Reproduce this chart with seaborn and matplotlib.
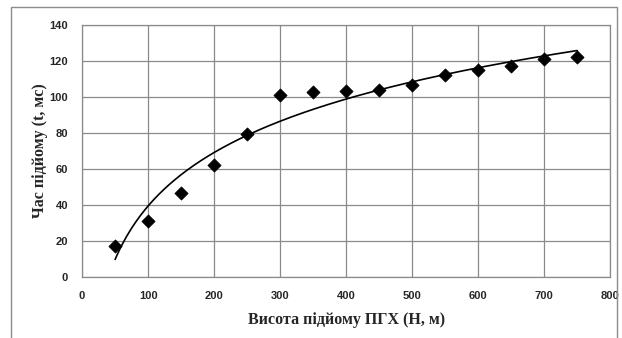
import matplotlib
matplotlib.use("Agg")
import matplotlib.pyplot as plt
import numpy as np
import pandas as pd
import seaborn as sns
from matplotlib.patches import Rectangle

heights = [50, 100, 150, 200, 250, 300, 350, 400, 450, 500, 550, 600, 650, 700, 750]
times = [17.5, 31, 46.5, 62, 79.5, 101, 103, 103.5, 104, 106.5, 112, 115, 117.5, 121, 122.5]
x_ticks = [0, 100, 200, 300, 400, 500, 600, 700, 800]
y_ticks = [0, 20, 40, 60, 80, 100, 120, 140]

points = pd.DataFrame({"H": heights, "t": times})

# logarithmic trend line (like the spreadsheet trendline)
a, b = np.polyfit(np.log(points["H"]), points["t"], 1)
trend_x = np.linspace(min(heights), max(heights), 200)
trend = pd.DataFrame({"H": trend_x, "t": a * np.log(trend_x) + b})

sns.set_style("white")

fig = plt.figure(figsize=(6.22, 3.38), dpi=100)
ax = fig.add_axes([0.132, 0.180, 0.849, 0.746])

# chart area border
fig.patches.append(Rectangle((11 / 622, -0.05), 606 / 622, 1.05 - 7 / 338,
                             transform=fig.transFigure, fill=False,
                             edgecolor="#8c8c8c", linewidth=1.0))

sns.lineplot(data=trend, x="H", y="t", color="black", linewidth=1.2, ax=ax)
sns.scatterplot(data=points, x="H", y="t", marker="D", color="black", s=45,
                edgecolor="black", zorder=3, ax=ax)

ax.set_xlim(0, 800)
ax.set_ylim(0, 140)
ax.set_xticks(x_ticks)
ax.set_yticks(y_ticks)
ax.grid(True, color="#8a8a8a", linewidth=0.9)
ax.set_axisbelow(True)
for side in ax.spines.values():
    side.set_color("#8a8a8a")
    side.set_linewidth(0.9)
ax.tick_params(axis="both", direction="out", length=3, width=0.9, color="#8a8a8a",
               labelsize=8, pad=7)
for lbl in ax.get_xticklabels() + ax.get_yticklabels():
    lbl.set_fontweight("bold")
    lbl.set_family("Liberation Sans")

ax.set_xlabel("Висота підйому ПГХ (Н, м)", family="Liberation Serif",
              fontweight="bold", fontsize=11.5, labelpad=8)
ax.set_ylabel("Час підйому (t, мс)", family="Liberation Serif",
              fontweight="bold", fontsize=11.5, labelpad=1)

fig.savefig("out.png", dpi=100)
plt.close(fig)
